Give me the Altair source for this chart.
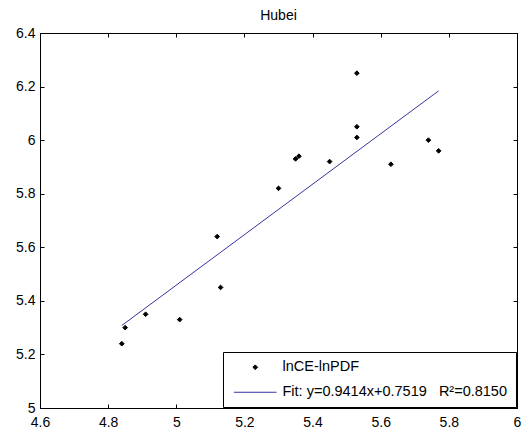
import altair as alt
import pandas as pd

# Data
x_vals = [4.84, 4.85, 4.91, 5.01, 5.12, 5.13, 5.30, 5.35, 5.36, 5.45, 5.53, 5.53, 5.53, 5.63, 5.74, 5.77]
y_vals = [5.24, 5.30, 5.35, 5.33, 5.64, 5.45, 5.82, 5.93, 5.94, 5.92, 6.25, 6.05, 6.01, 5.91, 6.00, 5.96]
fit_x = [4.84, 5.77]
fit_y = [5.308, 6.184]
series_names = ["lnCE-lnPDF", "Fit: y=0.9414x+0.7519\u00a0\u00a0\u00a0R\u00b2=0.8150"]
x_ticks = [4.6, 4.8, 5.0, 5.2, 5.4, 5.6, 5.8, 6.0]
y_ticks = [5.0, 5.2, 5.4, 5.6, 5.8, 6.0, 6.2, 6.4]
title_text = "Hubei"

FONT = "Liberation Sans"
BLUE = "#3535a0"

pts_df = pd.DataFrame({"x": x_vals, "y": y_vals, "series": series_names[0]})
fit_df = pd.DataFrame({"x": fit_x, "y": fit_y, "series": series_names[1]})

xscale = alt.Scale(domain=[x_ticks[0], x_ticks[-1]], nice=False, zero=False)
yscale = alt.Scale(domain=[y_ticks[0], y_ticks[-1]], nice=False, zero=False)

def axis(orient, labels=True, pad=5):
    return alt.Axis(
        orient=orient, values=(x_ticks if orient in ("bottom", "top") else y_ticks),
        format="~g", title=None, grid=False, domain=False,
        offset=-4, tickSize=4, tickColor="black", tickWidth=1,
        labels=labels, labelFont=FONT, labelFontSize=14, labelColor="black",
        labelPadding=pad, labelFlush=False, labelOverlap=False,
    )

leg = alt.Legend(
    title=None, orient="bottom-right", offset=1,
    strokeColor="black", fillColor="white", padding=8, cornerRadius=0,
    labelFont=FONT, labelFontSize=14.5, labelColor="black", labelOffset=20,
    labelLimit=400, rowPadding=10, symbolStrokeWidth=1, symbolOffset=17,
)

sc_fill = alt.Scale(domain=series_names, range=["black", BLUE])
sc_shape = alt.Scale(domain=series_names, range=["diamond", "M-3.5,0H3.5"])
sc_size = alt.Scale(domain=series_names, range=[22, 148])

points = alt.Chart(pts_df).mark_point(filled=True, opacity=1, strokeWidth=1).encode(
    x=alt.X("x:Q", scale=xscale, axis=axis("bottom", pad=7)),
    y=alt.Y("y:Q", scale=yscale, axis=axis("left", pad=5)),
    fill=alt.Fill("series:N", scale=sc_fill, legend=leg),
    stroke=alt.Stroke("series:N", scale=sc_fill, legend=leg),
    shape=alt.Shape("series:N", scale=sc_shape, legend=leg),
    size=alt.Size("series:N", scale=sc_size, legend=leg),
)

fit = alt.Chart(fit_df).mark_line(color=BLUE, strokeWidth=1).encode(
    x=alt.X("x:Q", scale=xscale, axis=None),
    y=alt.Y("y:Q", scale=yscale, axis=None),
)

frame_axes = alt.Chart(pts_df).mark_point(opacity=0).encode(
    x=alt.X("x:Q", scale=xscale, axis=axis("top", labels=False)),
    y=alt.Y("y:Q", scale=yscale, axis=axis("right", labels=False)),
)

chart = alt.layer(fit, points, frame_axes).resolve_axis(
    x="independent", y="independent"
).properties(
    width=477, height=375,
    title=alt.TitleParams(title_text, font=FONT, fontSize=14, fontWeight="normal",
                          color="black", anchor="middle", offset=3),
    autosize=alt.AutoSizeParams(type="none"),
    padding={"left": 40, "top": 33, "right": 5, "bottom": 25},
    background="white",
).configure_view(stroke="black", strokeWidth=1)

chart.save("out.html", embed_options={"renderer": "svg", "actions": False})
